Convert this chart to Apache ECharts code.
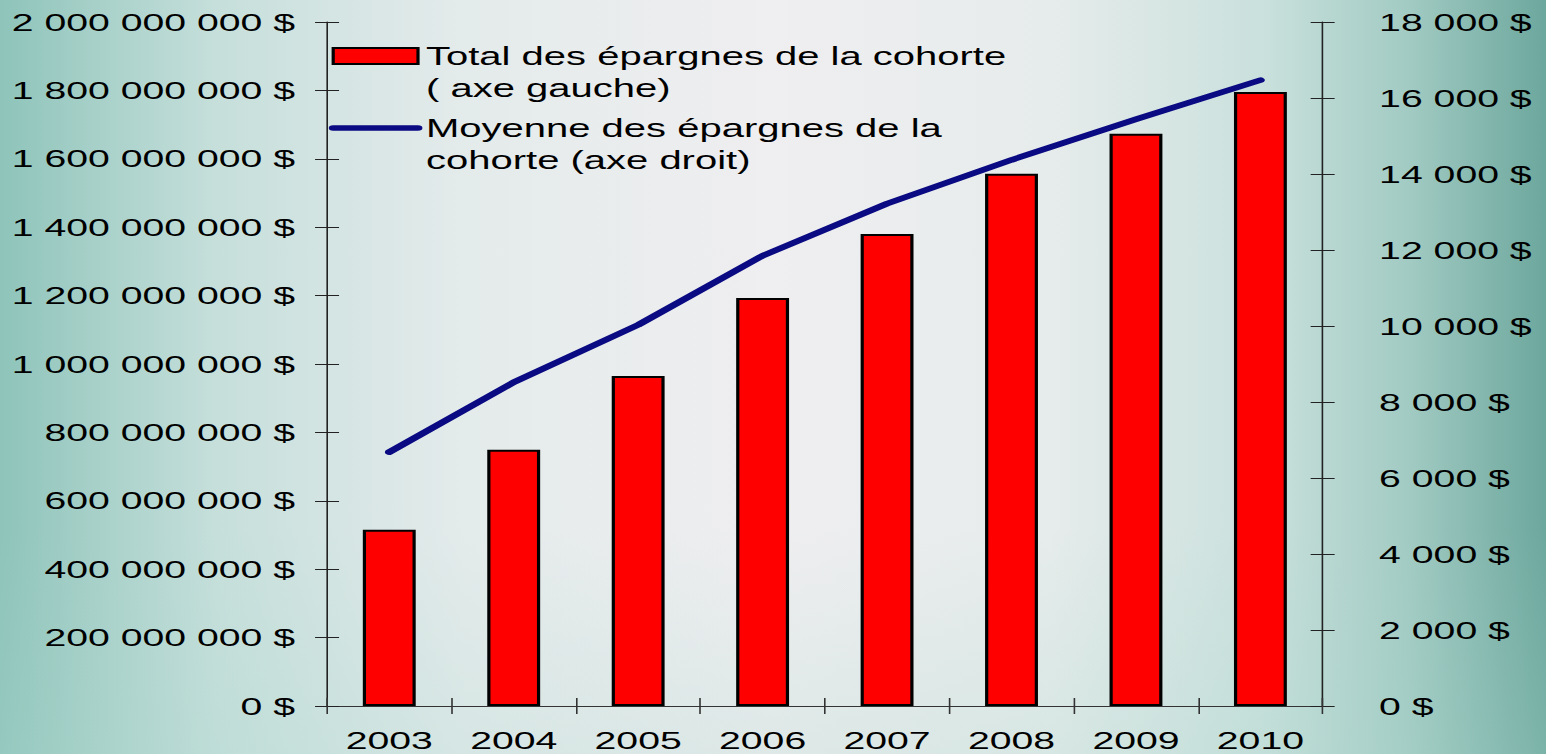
<!DOCTYPE html>
<html>
<head>
<meta charset="utf-8">
<script src="https://cdn.jsdelivr.net/npm/echarts@6/dist/echarts.min.js"></script>
<style>
  html, body { margin: 0; padding: 0; width: 1546px; height: 754px; overflow: hidden; }
  body {
    background:
      linear-gradient(to bottom, rgba(255,255,255,0.0) 0%, rgba(255,255,255,0.0) 70%, rgba(170,215,205,0.25) 100%),
      linear-gradient(to right, #8ec4ba 0%, #c6dfdb 14%, #e4ebeb 30%, #efeef0 50%, #e6eceb 68%, #c9e0dc 82%, #a2cbc3 91%, #6ca79d 100%);
  }
  #chart { position: absolute; left: 0; top: 0; width: 966.25px; height: 754px; transform: scaleX(1.6); transform-origin: 0 0; }
</style>
</head>
<body>
<div id="chart"></div>
<script>
// ---- data ----
const years = ['2003', '2004', '2005', '2006', '2007', '2008', '2009', '2010'];
const totalSavings = [515000000, 749000000, 965000000, 1193000000, 1380000000, 1556000000, 1673000000, 1795000000];
const avgSavings = [6680, 8520, 10030, 11850, 13220, 14370, 15440, 16470];
const barName = 'Total des épargnes de la cohorte\n( axe gauche)';
const lineName = 'Moyenne des épargnes de la\ncohorte (axe droit)';

function fmt(v) {
  return String(Math.round(v)).replace(/\B(?=(\d{3})+(?!\d))/g, ' ') + ' $';
}

const FONT = 'Liberation Sans, Arial, sans-serif';
const AXIS_FS = 24.5;
const chart = echarts.init(document.getElementById('chart'), null, { renderer: 'svg' });

const leftAxisBase = { type: 'value', position: 'left', min: 0, max: 2000000000, interval: 200000000, splitLine: { show: false } };
const rightAxisBase = { type: 'value', position: 'right', min: 0, max: 18000, interval: 2000, splitLine: { show: false } };

chart.setOption({
  backgroundColor: 'transparent',
  textStyle: { fontFamily: FONT },
  animation: false,
  grid: { left: 204.4, right: 139.35, top: 22, bottom: 48, containLabel: false },
  legend: {
    orient: 'vertical',
    left: 205.5,
    top: 8,
    padding: 0,
    itemWidth: 53,
    itemHeight: 16,
    itemGap: -24,
    selectedMode: false,
    formatter: function (name) { return '\n' + name; },
    textStyle: { fontFamily: FONT, fontSize: 25, color: '#000', lineHeight: 32 },
    data: [
      { name: barName, icon: 'rect', itemStyle: { color: '#ff0000', borderColor: '#000', borderWidth: 2 } },
      { name: lineName, itemStyle: { opacity: 0 }, lineStyle: { width: 5.5, color: '#0a0a82', cap: 'round' } }
    ]
  },
  xAxis: [
    {
      type: 'category', data: years, position: 'bottom',
      axisLine: { show: true, lineStyle: { color: '#333', width: 1 } },
      axisTick: { show: true, inside: false, length: 8, lineStyle: { color: '#333', width: 1 } },
      axisLabel: { margin: 22, fontSize: AXIS_FS, color: '#000', fontFamily: FONT }
    },
    {
      type: 'category', data: years, position: 'bottom',
      axisLine: { show: false },
      axisTick: { show: true, inside: true, length: 8, lineStyle: { color: '#333', width: 1 } },
      axisLabel: { show: false }
    }
  ],
  yAxis: [
    Object.assign({}, leftAxisBase, {
      axisLine: { show: true, lineStyle: { color: '#222', width: 1 } },
      axisTick: { show: true, inside: false, length: 7.5, lineStyle: { color: '#222', width: 1 } },
      axisLabel: { margin: 20, fontSize: AXIS_FS, color: '#000', fontFamily: FONT, formatter: fmt }
    }),
    Object.assign({}, rightAxisBase, {
      axisLine: { show: true, lineStyle: { color: '#222', width: 1 } },
      axisTick: { show: true, inside: false, length: 7.5, lineStyle: { color: '#222', width: 1 } },
      axisLabel: { margin: 35.3, fontSize: AXIS_FS, color: '#000', fontFamily: FONT, formatter: fmt }
    }),
    Object.assign({}, leftAxisBase, {
      axisLine: { show: false },
      axisTick: { show: true, inside: true, length: 7.5, lineStyle: { color: '#222', width: 1 } },
      axisLabel: { show: false }
    }),
    Object.assign({}, rightAxisBase, {
      axisLine: { show: false },
      axisTick: { show: true, inside: true, length: 7.5, lineStyle: { color: '#222', width: 1 } },
      axisLabel: { show: false }
    })
  ],
  series: [
    {
      name: barName, type: 'bar', xAxisIndex: 0, yAxisIndex: 0,
      data: totalSavings, barWidth: '42.5%',
      itemStyle: { color: '#ff0000', borderColor: '#000', borderWidth: 2 },
      z: 2
    },
    {
      name: lineName, type: 'line', xAxisIndex: 0, yAxisIndex: 1,
      data: avgSavings, symbol: 'none', showSymbol: false,
      lineStyle: { color: '#0a0a82', width: 5.5, cap: 'round', join: 'round' },
      itemStyle: { color: '#0a0a82' },
      z: 3
    }
  ]
});
</script>
</body>
</html>
